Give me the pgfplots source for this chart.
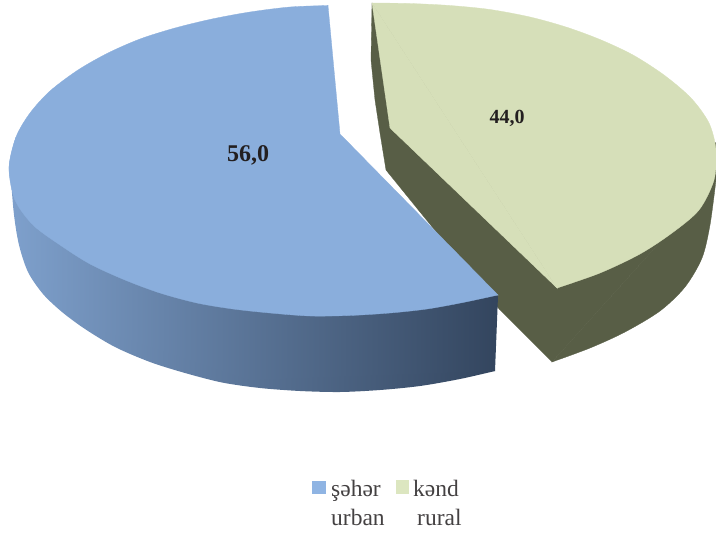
\documentclass[border=0pt]{standalone}
\usepackage{fontspec}
\setmainfont{Liberation Serif}
\usepackage{pgfplots}
\pgfplotsset{compat=1.18}
\definecolor{blueTop}{HTML}{8AAEDC}
\definecolor{greenTop}{HTML}{D6DFB9}
\definecolor{greenSide}{HTML}{585E46}
\definecolor{sideL}{HTML}{7EA0CC}
\definecolor{sideM}{HTML}{5F7A9E}
\definecolor{sideR}{HTML}{33455E}
\definecolor{legB}{HTML}{8FB4E3}
\definecolor{legG}{HTML}{DCE6C0}
\definecolor{txt}{HTML}{231F20}
\begin{document}
\begin{tikzpicture}
\useasboundingbox (0,0) rectangle (716bp,537bp);
\begin{axis}[
  at={(0,0)}, anchor=south west,
  scale only axis, width=716bp, height=537bp,
  xmin=0, xmax=716, ymin=0, ymax=537, y dir=reverse,
  hide axis, no marks, clip=true]
% kənd side
\addplot[draw=greenSide, line width=0.3pt, fill=greenSide] coordinates {
 (372,3)(371,60)(375,100)(380,133)(386,170)(420,212)(500,310)(552,362)(716,180)(716,143)
} --cycle;
\addplot[smooth, draw=greenSide, line width=0.3pt, fill=greenSide] coordinates {
 (552,362)(590,348)(625,332)(660,311)(685,287)(702,258)(710,225)(716,180)
} --cycle;
% kənd top
\addplot[draw=greenTop, line width=0.3pt, fill=greenTop] coordinates {
 (372,3)(557,288)(390,128)
} --cycle;
\addplot[smooth, draw=greenTop, line width=0.3pt, fill=greenTop] coordinates {
 (372,3)(410,3.5)(450,5.5)(490,9.5)(530,17)(566,27)(600,39.5)(633,55)(664,75)(691,98)(709,123)(716,150)(714,180)(699,210)(672,233)(640,254)(600,273)(557,288)
} --cycle;
% şəhər side
\addplot[smooth, draw=none, left color=sideL, middle color=sideM, right color=sideR] coordinates {
 (11,180)(14,215)(19,245)(28,272)(43,294)(62,312)(85,329)(115,347)(150,362)(185,373)(222,382.5)(260,388)(300,391)(340,392)(380,390)(420,386)(460,379)(495,371)
} --cycle;
\addplot[draw=none, left color=sideL, middle color=sideM, right color=sideR] coordinates {
 (11,180)(30,260)(100,330)(250,380)(495,371)(498,296)(300,250)
} --cycle;
% şəhər top
\addplot[draw=blueTop, line width=0.3pt, fill=blueTop] coordinates {
 (328,5.5)(9,168)(498,295)(340,134)
} --cycle;
\addplot[smooth, draw=blueTop, line width=0.3pt, fill=blueTop] coordinates {
 (328,5.5)(290,7)(250,12)(212,19)(175,28)(140,39)(108,53)(78,70)(50,91)(30,113)(16,137)(9,168)(15,200)
} --cycle;
\addplot[smooth, draw=blueTop, line width=0.3pt, fill=blueTop] coordinates {
 (16,137)(9,168)(15,200)(33,225)(60,245)(90,264)(125,280)(160,293)(197,303)(233,309)(270,313)(310,316)(350,315.5)(390,313)(427,309)(463,302.5)(498,295)
} --cycle;
% legend swatches
\addplot[draw=none, fill=legB] coordinates {(312,481)(326,481)(326,494)(312,494)} --cycle;
\addplot[draw=none, fill=legG] coordinates {(396,480)(409,480)(409,494)(396,494)} --cycle;
\node[anchor=base, text=txt, font=\fontsize{24bp}{24bp}\selectfont\bfseries] at (axis cs:248,161) {56,0};
\node[anchor=base, text=txt, font=\fontsize{20bp}{20bp}\selectfont\bfseries] at (axis cs:507,123) {44,0};
\node[anchor=base west, inner sep=0pt, text=txt!85, font=\fontsize{23.5bp}{23.5bp}\selectfont] at (axis cs:331,496) {şəhər};
\node[anchor=base west, inner sep=0pt, text=txt!85, font=\fontsize{23.5bp}{23.5bp}\selectfont] at (axis cs:413,496) {kənd};
\node[anchor=base west, inner sep=0pt, text=txt!85, font=\fontsize{23.5bp}{23.5bp}\selectfont] at (axis cs:331,525) {urban};
\node[anchor=base west, inner sep=0pt, text=txt!85, font=\fontsize{23.5bp}{23.5bp}\selectfont] at (axis cs:417,525) {rural};
\end{axis}
\end{tikzpicture}
\end{document}
